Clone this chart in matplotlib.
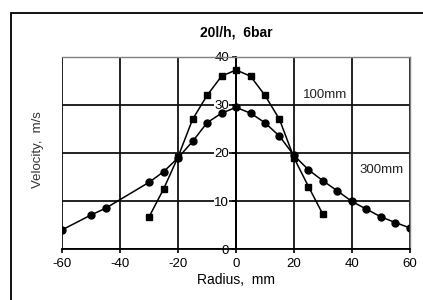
import matplotlib
matplotlib.use("Agg")
import matplotlib.pyplot as plt
from matplotlib.patches import Rectangle

plt.rcParams['font.family'] = ['Liberation Sans', 'DejaVu Sans']
plt.rcParams['axes.unicode_minus'] = False

# 100mm profile (squares)
r_100 = [-30, -25, -20, -15, -10, -5, 0, 5, 10, 15, 20, 25, 30]
v_100 = [6.7, 12.5, 19.2, 27.0, 32.0, 36.0, 37.3, 36.0, 32.0, 27.0, 19.0, 13.0, 7.2]

# 300mm profile (circles)
r_300 = [-60, -50, -45, -30, -25, -20, -15, -10, -5, 0, 5, 10, 15, 20, 25, 30, 35, 40, 45, 50, 55, 60]
v_300 = [4.0, 7.1, 8.5, 13.9, 16.1, 19.0, 22.4, 26.3, 28.3, 29.5, 28.3, 26.3, 23.5, 19.5,
         16.5, 14.2, 12.1, 9.9, 8.3, 6.7, 5.5, 4.4]

x_ticks = [-60, -40, -20, 0, 20, 40, 60]
y_ticks = [0, 10, 20, 30, 40]

fig = plt.figure(figsize=(4.23, 3.0), dpi=100)
fig.patches.append(Rectangle((0.027, -0.05), 1.1, 1.007, transform=fig.transFigure,
                             fill=False, edgecolor='black', linewidth=1.3))
ax = fig.add_axes([0.147, 0.17, 0.822, 0.64])

ax.plot(r_100, v_100, color='black', linewidth=1.1, marker='s', markersize=5)
ax.plot(r_300, v_300, color='black', linewidth=1.1, marker='o', markersize=5)

ax.set_xlim(-60, 60)
ax.set_ylim(0, 40)
ax.set_xticks(x_ticks)
ax.set_yticks(y_ticks)
ax.grid(True, color='#111111', linewidth=1.3)
ax.set_axisbelow(True)

ax.spines['left'].set_position(('data', 0))
ax.spines['left'].set_linewidth(1.3)
ax.spines['bottom'].set_linewidth(1.3)
for s in ['top', 'right']:
    ax.spines[s].set_color('grey')
    ax.spines[s].set_linewidth(1.0)
ax.tick_params(axis='both', labelsize=9.5, length=3, direction='out', width=1.2)
ax.tick_params(axis='y', pad=2)
for lbl in ax.get_yticklabels():
    lbl.set_bbox(dict(facecolor='white', edgecolor='none', pad=0.2))

ax.text(23, 32, '100mm', fontsize=9.5, va='center', color='#222222')
ax.text(42.5, 16.5, '300mm', fontsize=9.5, va='center', color='#222222')

ax.set_title('20l/h,  6bar', fontsize=10, fontweight='bold', pad=15)
ax.set_xlabel('Radius,  mm', fontsize=10, labelpad=2)
fig.text(0.09, 0.5, 'Velocity,  m/s', fontsize=9.5, rotation=90, ha='center', va='center',
         color='#333333')

fig.savefig('out.png', dpi=100)
